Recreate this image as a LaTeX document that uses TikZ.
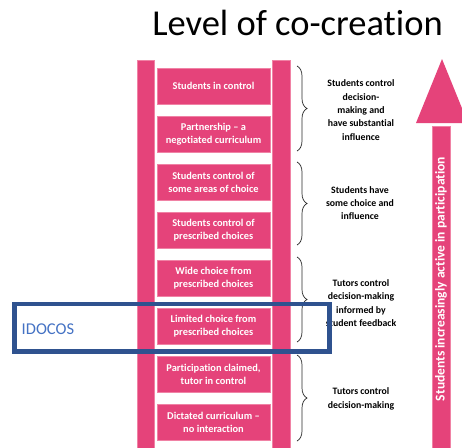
\documentclass[tikz,border=0pt]{standalone}
\usepackage{fontspec}
\setmainfont{Carlito}[Ligatures={TeX,NoCommon}]
\usetikzlibrary{decorations.pathreplacing}
\definecolor{ladderpink}{RGB}{229,67,122}
\definecolor{lightpink}{RGB}{240,130,165}
\definecolor{frameblue}{RGB}{47,82,143}
\definecolor{textblue}{RGB}{68,114,196}
\definecolor{bracegray}{RGB}{40,40,40}
\tikzset{
  rail/.style={fill=ladderpink, draw=lightpink, line width=0.6pt},
  rung/.style={fill=ladderpink, draw=lightpink, line width=0.6pt, minimum width=113pt, minimum height=36pt, inner sep=0pt},
  rungtext/.style={text=white, font=\bfseries\fontsize{10.4}{12.8}\selectfont, align=center},
  sidelabel/.style={font=\bfseries\fontsize{9.8}{13.3}\selectfont, align=center, inner sep=0pt, text=black},
  bracestyle/.style={draw=bracegray, line width=0.7pt, decorate, decoration={brace, amplitude=10pt}},
}
\begin{document}
\begin{tikzpicture}[x=1pt,y=-1pt]
\useasboundingbox (0,0) rectangle (462,447);
\fill[white] (0,0) rectangle (462,447);
% title
\node[anchor=base, inner sep=0pt, font=\fontsize{36.5}{40}\selectfont] (title) at (297.5,35) {Level of co-creation};
% rails
\path[rail] (137,60) rectangle (154,450);
\path[rail] (272,60) rectangle (290,450);
% rungs
\node[rung] (r1) at (213.5,86)  {}; \node[rungtext] at (r1) {Students in control};
\node[rung] (r2) at (213.5,134) {}; \node[rungtext] at (r2) {Partnership -- a\\negotiated curriculum};
\node[rung] (r3) at (213.5,182) {}; \node[rungtext] at (r3) {Students control of\\some areas of choice};
\node[rung] (r4) at (213.5,230) {}; \node[rungtext] at (r4) {Students control of\\prescribed choices};
\node[rung] (r5) at (213.5,278) {}; \node[rungtext] at (r5) {Wide choice from\\prescribed choices};
\node[rung] (r6) at (213.5,326) {}; \node[rungtext] at (r6) {Limited choice from\\prescribed choices};
\node[rung] (r7) at (213.5,374) {}; \node[rungtext] at (r7) {Participation claimed,\\tutor in control};
\node[rung] (r8) at (213.5,422) {}; \node[rungtext] at (r8) {Dictated curriculum --\\no interaction};
% braces
\coordinate (b1t) at (297,66);  \coordinate (b1b) at (297,151);
\coordinate (b2t) at (297,162); \coordinate (b2b) at (297,245);
\coordinate (b3t) at (297,257); \coordinate (b3b) at (297,342);
\coordinate (b4t) at (297,355); \coordinate (b4b) at (297,441);
\draw[bracestyle] (b1t) -- (b1b);
\draw[bracestyle] (b2t) -- (b2b);
\draw[bracestyle] (b3t) -- (b3b);
\draw[bracestyle] (b4t) -- (b4b);
% side labels
\node[sidelabel] (l1) at (361,110) {Students control\\decision-\\making and\\have substantial\\influence};
\node[sidelabel] (l2) at (360,203) {Students have\\some choice and\\influence};
\node[sidelabel] (l3) at (361,303) {Tutors control\\decision-making\\informed by\\student feedback};
\node[sidelabel] (l4) at (361,399) {Tutors control\\decision-making};
% big arrow
\fill[ladderpink] (442,59) -- (468,123) -- (416,123) -- cycle;
\path[rail] (432,126) rectangle (450,450);
\node[rotate=90, text=white, font=\bfseries\fontsize{13.5}{14}\selectfont, inner sep=0pt] (arrowtext) at (441,279) {Students increasingly active in participation};
% IDOCOS frame
\draw[frameblue, line width=4.6pt] (14.5,304) rectangle (329.5,351.5);
\node[anchor=base west, inner sep=0pt, text=textblue, font=\fontsize{16.5}{20}\selectfont] (idocos) at (21.5,334) {IDOCOS};
\end{tikzpicture}
\end{document}
